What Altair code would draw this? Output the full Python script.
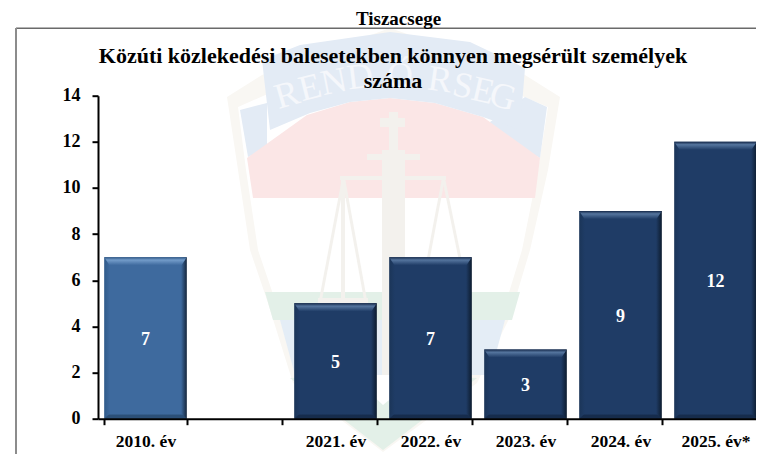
import altair as alt
import pandas as pd

# ---- chart values ----
categories = ["2010. év", " ", "2021. év", "2022. év", "2023. év", "2024. év", "2025. év*"]
bar_years = ["2010. év", "2021. év", "2022. év", "2023. év", "2024. év", "2025. év*"]
bar_values = [7, 5, 7, 3, 9, 12]
y_ticks = [0, 2, 4, 6, 8, 10, 12, 14]
heading = "Tiszacsege"
title_lines = ["Közúti közlekedési balesetekben könnyen megsérült személyek", "száma"]

FONT = "Liberation Serif"
PAD_L, PAD_T, W, H = 90, 87.7, 658, 323
SCALE_W = 665
ORIGIN_X, ORIGIN_Y = 8 + PAD_L, 8 + PAD_T

df = pd.DataFrame({"year": bar_years, "value": bar_values, "mid": [v / 2 for v in bar_values]})
one = pd.DataFrame({"a": [0]})

# ---- faint badge watermark (page-pixel outlines) ----
badge_shapes = [
    ("#f9f7f3", [(227, 97), (262, 75), (390, 28), (525, 75), (560, 97), (548, 170), (530, 250), (510, 317),
                 (477, 383), (383, 452), (293, 383), (267, 300), (250, 250), (238, 170)]),
    ("#ffffff", [(238, 107), (390, 40), (548, 107), (538, 170), (522, 250), (503, 312), (470, 378),
                 (383, 442), (300, 378), (275, 300), (258, 250), (246, 170)]),
    ("#e3ebf5", [(240, 110), (267, 103), (267, 148), (248, 157)]),
    ("#e3ebf5", [(547, 107), (525, 97), (483, 127), (540, 158)]),
    ("#fbe6e6", [(247, 158), (307, 115), (350, 102), (390, 98), (435, 103), (483, 117), (540, 158), (535, 198), (253, 198)]),
    ("#e3ebf5", [(262, 60), (300, 45), (390, 32), (470, 42), (525, 68), (520, 130), (483, 117), (435, 103),
                 (390, 98), (350, 102), (310, 113), (270, 130)]),
    ("#e3f0e8", [(265, 292), (520, 292), (512, 320), (273, 320)]),
    ("#e4edf6", [(280, 320), (505, 320), (490, 375), (295, 375)]),
    ("#e3f0e8", [(290, 378), (350, 375), (383, 405), (420, 375), (477, 378), (383, 450)]),
    ("#f3f1ed", [(382, 150), (405, 150), (405, 375), (382, 375)]),
    ("#f3f1ed", [(389, 112), (398, 112), (398, 118), (405, 118), (405, 127), (398, 127), (398, 150), (389, 150), (389, 127), (380, 127), (380, 118), (389, 118)]),
    ("#f3f1ed", [(367, 154), (420, 154), (420, 160), (367, 160)]),
    ("#f3f1ed", [(340, 176), (446, 176), (446, 180), (340, 180)]),
    ("#f3f1ed", [(342, 178), (345, 178), (322, 300), (319, 300)]),
    ("#f3f1ed", [(342, 178), (345, 178), (367, 300), (364, 300)]),
    ("#f3f1ed", [(341, 178), (345, 178), (345, 300), (341, 300)]),
    ("#f3f1ed", [(442, 178), (445, 178), (422, 300), (419, 300)]),
    ("#f3f1ed", [(442, 178), (445, 178), (470, 300), (467, 300)]),
    ("#f3f1ed", [(318, 298), (368, 298), (368, 303), (318, 303)]),
]
badge_letters = ["R", "E", "N", "D", "Ő", "R", "S", "E", "G"]
letter_x = [287, 310, 334, 360, 400, 440, 463, 483, 503]
letter_y = [95, 88, 82, 77, 76, 80, 86, 91, 97]
letter_angle = [344, 346, 349, 353, 2, 8, 11, 13, 15]


def to_path(points):
    return "M" + "L".join(f"{x - ORIGIN_X:.1f} {y - ORIGIN_Y:.1f}" for x, y in points) + "Z"


decor = [
    alt.Chart(one).mark_point(shape=to_path(pts), size=4, filled=True, fill=fill, opacity=1, strokeWidth=0, clip=False)
    .encode(x=alt.value(0), y=alt.value(0))
    for fill, pts in badge_shapes
]
decor += [
    alt.Chart(one).mark_text(text=ch, font=FONT, fontSize=36, color="#f5f7fb", angle=ang, align="center", baseline="middle")
    .encode(x=alt.value(px - ORIGIN_X), y=alt.value(py - ORIGIN_Y))
    for ch, px, py, ang in zip(badge_letters, letter_x, letter_y, letter_angle)
]

# ---- frame lines ----
frame = [
    alt.Chart(one).mark_rule(color="#6a6a6a", strokeWidth=1.5)
    .encode(x=alt.value(16 - ORIGIN_X), x2=alt.value(764 - ORIGIN_X), y=alt.value(28.2 - ORIGIN_Y)),
    alt.Chart(one).mark_rule(color="#8c8c8c", strokeWidth=2)
    .encode(x=alt.value(16 - ORIGIN_X), y=alt.value(28 - ORIGIN_Y), y2=alt.value(454 - ORIGIN_Y)),
]

# ---- bars with a bevel look ----
x = alt.X(
    "year:N",
    sort=categories,
    title=None,
    scale=alt.Scale(domain=categories, paddingInner=0.13, paddingOuter=0.065, range=[0, SCALE_W]),
    axis=alt.Axis(
        labelAngle=0, labelFont=FONT, labelFontSize=17.5, labelFontWeight="bold", labelColor="#000000",
        domainColor="#000000", domainWidth=2, tickColor="#000000", tickWidth=2, tickSize=6,
        tickBand="extent", labelPadding=8, grid=False, zindex=1,
    ),
)
y = alt.Y(
    "value:Q",
    title=None,
    scale=alt.Scale(domain=[0, 14], nice=False),
    axis=alt.Axis(
        values=y_ticks, labelFont=FONT, labelFontSize=18, labelFontWeight="bold", labelColor="#000000",
        domainColor="#000000", domainWidth=2, tickColor="#000000", tickWidth=2, tickSize=6,
        labelPadding=12, grid=False, zindex=1,
    ),
)


def hgrad(edge_l, body, edge_r):
    return alt.Gradient(
        gradient="linear", x1=0, x2=1, y1=0, y2=0,
        stops=[
            alt.GradientStop(color=edge_l, offset=0),
            alt.GradientStop(color=body, offset=0.07),
            alt.GradientStop(color=body, offset=0.93),
            alt.GradientStop(color=edge_r, offset=1),
        ],
    )


def vgrad(c1, c2, c3):
    return alt.Gradient(
        gradient="linear", x1=0, x2=0, y1=0, y2=1,
        stops=[
            alt.GradientStop(color=c1, offset=0),
            alt.GradientStop(color=c2, offset=0.35),
            alt.GradientStop(color=c3, offset=1),
        ],
    )


TOP_BEVEL = "M-41.3 0L41.3 0L36 8L-36 8Z"
BOTTOM_BEVEL = "M-36 -5L36 -5L41.3 0L-41.3 0Z"


def bar_layers(data, edge_l, body, edge_r, top_dark, top_light, bottom):
    return [
        alt.Chart(data).mark_bar(color=hgrad(edge_l, body, edge_r), clip=False).encode(x=x, y=y),
        alt.Chart(data).mark_point(shape=TOP_BEVEL, size=4, filled=True, opacity=1, strokeWidth=0,
                                   color=vgrad(top_dark, top_light, body))
        .encode(x=alt.X("year:N", sort=categories), y=alt.Y("value:Q")),
        alt.Chart(data).mark_point(shape=BOTTOM_BEVEL, size=4, filled=True, opacity=1, strokeWidth=0,
                                   color=vgrad(body, bottom, bottom))
        .encode(x=alt.X("year:N", sort=categories), y=alt.Y("zero:Q")),
    ]


first = df[df.year == bar_years[0]].assign(zero=0)
rest = df[df.year != bar_years[0]].assign(zero=0)

bars = bar_layers(first, "#2f5a8a", "#3e6a9e", "#15263c", "#2c5482", "#739cca", "#2c5078") + \
       bar_layers(rest, "#1b3558", "#1f3c66", "#0c1b2e", "#15294a", "#55759e", "#162c4c")

labels = alt.Chart(df).mark_text(font=FONT, fontSize=18, fontWeight="bold", color="#ffffff", baseline="middle", dy=2).encode(
    x=alt.X("year:N", sort=categories), y=alt.Y("mid:Q"), text=alt.Text("value:Q")
)

# ---- titles ----
texts = [
    alt.Chart(one).mark_text(text=heading, font=FONT, fontSize=19, fontWeight="bold", color="#000000",
                             align="center", baseline="alphabetic")
    .encode(x=alt.value(398.5 - ORIGIN_X), y=alt.value(24.5 - ORIGIN_Y)),
    alt.Chart(one).mark_text(text=title_lines[0], font=FONT, fontSize=22, fontWeight="bold", color="#000000",
                             align="center", baseline="alphabetic")
    .encode(x=alt.value(393 - ORIGIN_X), y=alt.value(63 - ORIGIN_Y)),
    alt.Chart(one).mark_text(text=title_lines[1], font=FONT, fontSize=22, fontWeight="bold", color="#000000",
                             align="center", baseline="alphabetic")
    .encode(x=alt.value(393 - ORIGIN_X), y=alt.value(88 - ORIGIN_Y)),
]

chart = alt.layer(*decor, *frame, *bars, labels, *texts).properties(
    width=W,
    height=H,
    autosize=alt.AutoSizeParams(type="none"),
    padding={"left": PAD_L, "top": PAD_T, "right": 0, "bottom": 35.3},
    background="#ffffff",
).configure_view(strokeWidth=0)

chart.save("out.html", embed_options={"renderer": "svg", "actions": False})
